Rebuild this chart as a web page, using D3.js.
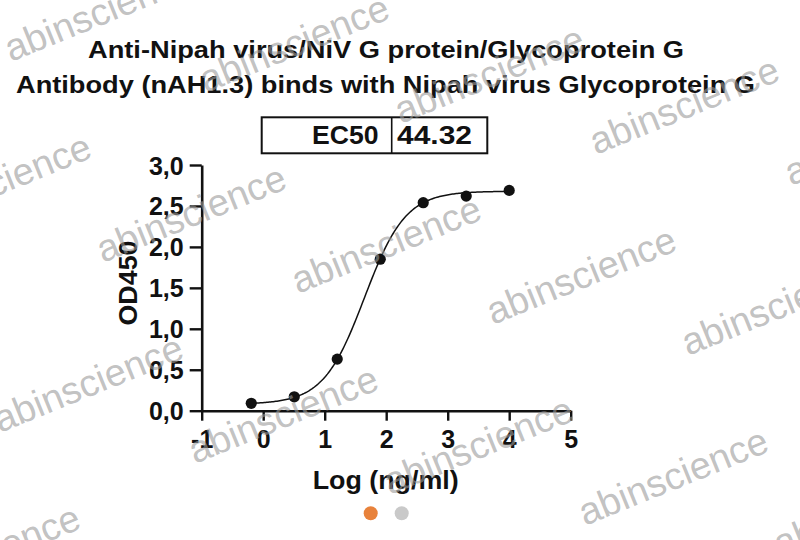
<!DOCTYPE html>
<html><head><meta charset="utf-8">
<script src="https://cdn.jsdelivr.net/npm/d3@7"></script>
<style>
html,body{margin:0;padding:0;background:#fff;}
svg{display:block;font-family:"Liberation Sans",Arial,Helvetica,sans-serif;}
</style></head>
<body>
<svg id="chart" width="800" height="540"></svg>
<script>
// ---- data ----
const titleLines = ["Anti-Nipah virus/NiV G protein/Glycoprotein G",
                    "Antibody (nAH1.3) binds with Nipah virus Glycoprotein G"];
const ec50Label = "EC50";
const ec50Value = "44.32";
const logConc = [-0.194, 0.505, 1.204, 1.903, 2.602, 3.301, 4.0];
const od450   = [0.09, 0.17, 0.63, 1.85, 2.54, 2.62, 2.69];
// four-parameter logistic fit shown as the curve
const fitBottom = 0.08, fitTop = 2.68, fitLogEC50 = Math.log10(44.32), fitHill = 1.3;
const xTicks = [-1, 0, 1, 2, 3, 4, 5];
const xTickLabels = ["-1", "0", "1", "2", "3", "4", "5"];
const yTicks = [0, 0.5, 1, 1.5, 2, 2.5, 3];
const yTickLabels = ["0,0", "0,5", "1,0", "1,5", "2,0", "2,5", "3,0"];
const xTitle = "Log (ng/ml)";
const yTitle = "OD450";
const watermark = "abinscience";

const svg = d3.select("#chart");
const x = d3.scaleLinear().domain([-1, 5]).range([201.7, 570.7]);
const y = d3.scaleLinear().domain([0, 3]).range([410.7, 165]);

// title
const tl = [{x: 88, y: 58, len: 596}, {x: 16, y: 92.5, len: 739}];
svg.selectAll("text.title").data(titleLines).join("text")
  .attr("class", "title")
  .attr("x", (d, i) => tl[i].x).attr("y", (d, i) => tl[i].y)
  .attr("textLength", (d, i) => tl[i].len).attr("lengthAdjust", "spacingAndGlyphs")
  .attr("font-size", 24).attr("font-weight", "bold").attr("fill", "#111")
  .text(d => d);

// EC50 box
const box = svg.append("g");
box.append("rect").attr("x", 261.7).attr("y", 117.3).attr("width", 225.6).attr("height", 36)
  .attr("fill", "none").attr("stroke", "#111").attr("stroke-width", 2);
box.append("line").attr("x1", 391.7).attr("x2", 391.7).attr("y1", 117.3).attr("y2", 153.3)
  .attr("stroke", "#111").attr("stroke-width", 1.6);
box.append("text").attr("x", 378.5).attr("y", 144).attr("text-anchor", "end")
  .attr("textLength", 66.5).attr("lengthAdjust", "spacingAndGlyphs")
  .attr("font-size", 25).attr("font-weight", "bold").attr("fill", "#111").text(ec50Label);
box.append("text").attr("x", 397).attr("y", 144)
  .attr("textLength", 75).attr("lengthAdjust", "spacingAndGlyphs")
  .attr("font-size", 25).attr("font-weight", "bold").attr("fill", "#111").text(ec50Value);

// axes
const xAxis = d3.axisBottom(x).tickValues(xTicks)
  .tickFormat((d, i) => xTickLabels[i]).tickSizeInner(10).tickSizeOuter(0).tickPadding(8);
const yAxis = d3.axisLeft(y).tickValues(yTicks)
  .tickFormat((d, i) => yTickLabels[i]).tickSizeInner(12).tickSizeOuter(0).tickPadding(6);

const gx = svg.append("g").attr("transform", `translate(0,${y(0)})`).call(xAxis);
const gy = svg.append("g").attr("transform", `translate(${x(-1)},0)`).call(yAxis);
[gx, gy].forEach(g => {
  g.select(".domain").attr("stroke", "#111").attr("stroke-width", 2.6);
  g.selectAll(".tick line").attr("stroke", "#111").attr("stroke-width", 2.4);
  g.selectAll(".tick text").attr("fill", "#111").attr("font-size", 25)
    .attr("font-weight", "bold").attr("font-family", "'Liberation Sans',Arial,sans-serif");
});
gx.selectAll(".tick text").attr("dy", null).attr("y", 37);
gy.selectAll(".tick text").attr("dy", "0.36em");

// axis titles
svg.append("text").attr("x", 312.7).attr("y", 488.5)
  .attr("textLength", 146).attr("lengthAdjust", "spacingAndGlyphs")
  .attr("font-size", 25).attr("font-weight", "bold").attr("fill", "#111").text(xTitle);
svg.append("text").attr("transform", "translate(137,283) rotate(-90)")
  .attr("text-anchor", "middle")
  .attr("textLength", 85).attr("lengthAdjust", "spacingAndGlyphs")
  .attr("font-size", 25).attr("font-weight", "bold").attr("fill", "#111").text(yTitle);

// fitted curve
const fit = v => fitBottom + (fitTop - fitBottom) / (1 + Math.pow(10, (fitLogEC50 - v) * fitHill));
const curveX = d3.range(0, 201).map(k => logConc[0] + (logConc[logConc.length - 1] - logConc[0]) * k / 200);
svg.append("path")
  .datum(curveX)
  .attr("fill", "none").attr("stroke", "#111").attr("stroke-width", 1.5)
  .attr("d", d3.line().x(d => x(d)).y(d => y(fit(d))));

// points
svg.selectAll("circle.pt").data(logConc).join("circle")
  .attr("class", "pt")
  .attr("cx", d => x(d)).attr("cy", (d, i) => y(od450[i]))
  .attr("r", 5.6).attr("fill", "#111");

// page indicator dots
svg.append("circle").attr("cx", 370.7).attr("cy", 513.3).attr("r", 7).attr("fill", "#E8823B");
svg.append("circle").attr("cx", 401.7).attr("cy", 513.3).attr("r", 7).attr("fill", "#C9C9C9");

// watermark lattice (drawn on top)
const wm = svg.append("g").attr("pointer-events", "none");
const origin = [103, 263], u = [195, 31], v = [92, 201];
const spots = [];
for (let i = -4; i <= 5; i++) for (let j = -3; j <= 3; j++) {
  const px = origin[0] + i * u[0] + j * v[0], py = origin[1] + i * u[1] + j * v[1];
  if (px > -230 && px < 800 && py > 0 && py < 660) spots.push([px, py]);
}
wm.selectAll("text").data(spots).join("text")
  .attr("transform", d => `translate(${d[0]},${d[1]}) rotate(-22)`)
  .attr("font-size", 38).attr("fill", "#9a9a9a").attr("fill-opacity", 0.62)
  .attr("font-family", "'Liberation Sans',Arial,sans-serif")
  .text(watermark);
</script>
</body></html>
